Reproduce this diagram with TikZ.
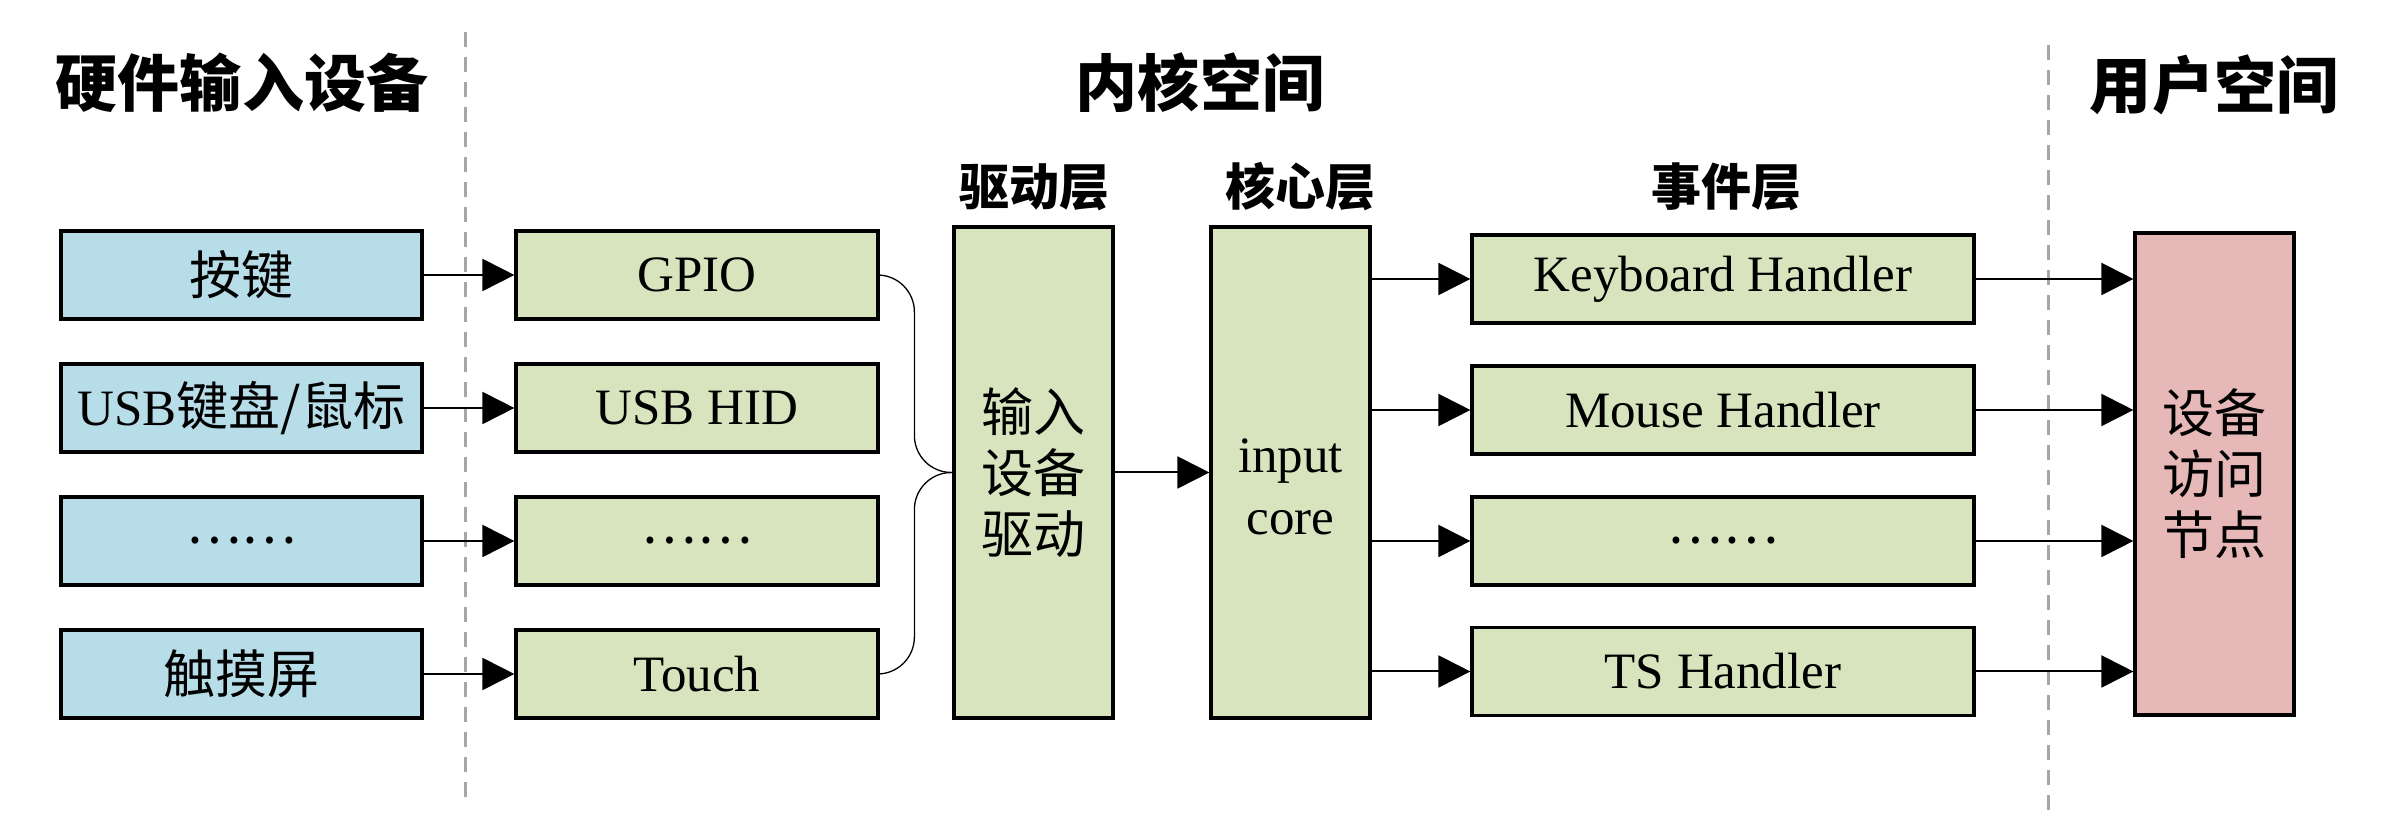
\documentclass[tikz,border=0pt]{standalone}
\usepackage{fontspec}
\usepackage{tikz}
\usetikzlibrary{arrows.meta}
\setmainfont{Liberation Serif}
\newfontfamily\cjk[Scale=1.02]{Noto Sans CJK SC}
\definecolor{HwBlue}{HTML}{B7DDE8}
\definecolor{KnGreen}{HTML}{D7E4BD}
\definecolor{UsrPink}{HTML}{E6B9B8}
\definecolor{SepGray}{HTML}{A6A6A6}

\begin{document}
\begin{tikzpicture}[x=1pt, y=1pt,
	box/.style={draw, line width=3.2pt, minimum height=88pt, inner sep=0pt, font=\fontsize{51}{62}\selectfont},
	hwbox/.style={box, fill=HwBlue, minimum width=361pt},
	dvbox/.style={box, fill=KnGreen, minimum width=362pt},
	evbox/.style={box, fill=KnGreen, minimum width=502pt},
	tallbox/.style={box, minimum width=159pt, minimum height=491pt, align=center},
	zhtall/.style={tallbox, font=\cjk\fontsize{51}{61}\selectfont},
	arr/.style={line width=2pt, -{Triangle[length=32pt,width=32pt]}},
	joinline/.style={line width=1.3pt, rounded corners=37pt},
	divider/.style={SepGray, line width=3pt, dash pattern=on 15pt off 10pt},
	headtitle/.style={font=\cjk\bfseries\fontsize{60.8}{70}\selectfont},
	layertitle/.style={font=\cjk\bfseries\fontsize{49}{58}\selectfont}]
			\useasboundingbox (0,0) rectangle (2399,837);
\draw[divider] (465,805) -- (465,31);
\draw[divider] (2048,792) -- (2048,17);
\node[headtitle] (hwtitle) at (242,754) {硬件输入设备};
\node[headtitle] (kntitle) at (1200,754) {内核空间};
\node[headtitle] (usrtitle) at (2214,752) {用户空间};
\node[layertitle] (drvtitle) at (1034,650) {驱动层};
\node[layertitle] (coretitle) at (1300,650) {核心层};
\node[layertitle] (evtitle) at (1726,650) {事件层};
\node[hwbox] (hwkey) at (241.5,562) {\cjk 按键};
\node[hwbox] (hwusb) at (241.5,429) {USB\cjk 键盘/鼠标};
\node[hwbox] (hwdots) at (241.5,296) {\cjk ……};
\node[hwbox] (hwtouch) at (241.5,163) {\cjk 触摸屏};
\node[dvbox] (gpio) at (697,562) {GPIO};
\node[dvbox] (usbhid) at (697,429) {USB HID};
\node[dvbox] (dvdots) at (697,296) {\cjk ……};
\node[dvbox] (touch) at (697,163) {Touch};
\node[zhtall, fill=KnGreen] (drv) at (1033.5,364.5) {输入\\设备\\驱动};
\node[tallbox, fill=KnGreen] (core) at (1290.5,364.5) {\mbox{}\\input\\core};
\node[evbox] (kbd) at (1723,558) {Keyboard Handler};
\node[evbox] (mouse) at (1723,427) {Mouse Handler};
\node[evbox] (evdots) at (1723,296) {\cjk ……};
\node[evbox] (ts) at (1723,165.5) {TS Handler};
\node[zhtall, fill=UsrPink, minimum height=482pt] (usr) at (2214.5,363) {设备\\访问\\节点};
\draw[arr] (hwkey) -- (gpio);
\draw[arr] (hwusb) -- (usbhid);
\draw[arr] (hwdots) -- (dvdots);
\draw[arr] (hwtouch) -- (touch);
\draw[joinline] (gpio.east) -| ([xshift=-38pt]drv.west) -- (drv.west);
\draw[joinline] (touch.east) -| ([xshift=-38pt]drv.west) -- (drv.west);
\draw[arr] (drv) -- (core);
\draw[arr] (core.east |- kbd) -- (kbd);
\draw[arr] (core.east |- mouse) -- (mouse);
\draw[arr] (core.east |- evdots) -- (evdots);
\draw[arr] (core.east |- ts) -- (ts);
\draw[arr] (kbd) -- (kbd -| usr.west);
\draw[arr] (mouse) -- (mouse -| usr.west);
\draw[arr] (evdots) -- (evdots -| usr.west);
\draw[arr] (ts) -- (ts -| usr.west);
		\end{tikzpicture}
\end{document}
